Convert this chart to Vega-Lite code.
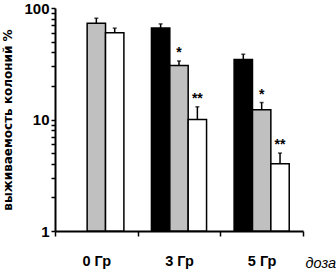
{
  "$schema": "https://vega.github.io/schema/vega-lite/v6.json",
  "autosize": "none",
  "padding": {"left": 55, "top": 8, "right": 33, "bottom": 42},
  "width": 248,
  "height": 223,
  "background": "white",
  "config": {
    "view": {"stroke": null},
    "axis": {"domainColor": "black", "domainWidth": 2, "tickColor": "black", "tickWidth": 1.5, "labelColor": "black", "grid": false, "labelFont": "Liberation Sans", "labelFontWeight": "bold"}
  },
  "data": {"values": [
    {"dose": "0 Гр", "group": "B", "value": 73, "err": 81, "base": 1, "sig": ""},
    {"dose": "0 Гр", "group": "C", "value": 60, "err": 66, "base": 1, "sig": ""},
    {"dose": "3 Гр", "group": "A", "value": 66, "err": 72, "base": 1, "sig": ""},
    {"dose": "3 Гр", "group": "B", "value": 30.5, "err": 33.5, "base": 1, "sig": "*"},
    {"dose": "3 Гр", "group": "C", "value": 10, "err": 13, "base": 1, "sig": "**"},
    {"dose": "5 Гр", "group": "A", "value": 34.5, "err": 38.5, "base": 1, "sig": ""},
    {"dose": "5 Гр", "group": "B", "value": 12.2, "err": 14.2, "base": 1, "sig": "*"},
    {"dose": "5 Гр", "group": "C", "value": 4.0, "err": 5.0, "base": 1, "sig": "**"}
  ]},
  "encoding": {
    "x": {"field": "dose", "type": "nominal", "sort": ["0 Гр", "3 Гр", "5 Гр"],
      "scale": {"paddingInner": 0, "paddingOuter": 0},
      "axis": {"title": "доза", "labelAngle": 0, "tickBand": "extent", "tickSize": 5, "labelPadding": 18, "labelFontSize": 14.5,
        "titleFont": "Liberation Sans", "titleFontStyle": "italic", "titleFontWeight": "normal", "titleFontSize": 14.5,
        "titleAlign": "left", "titleX": 250, "titleY": 36, "titleBaseline": "alphabetic", "titleColor": "black"}},
    "xOffset": {"field": "group", "type": "nominal", "scale": {"domain": ["A", "B", "C"], "paddingOuter": 0.75, "paddingInner": 0}}
  },
  "layer": [
    {
      "mark": {"type": "bar", "stroke": "black", "strokeWidth": 1.5},
      "encoding": {
        "y": {"field": "value", "type": "quantitative",
          "scale": {"type": "log", "domain": [1, 100], "nice": false},
          "axis": {"values": [1, 2, 3, 4, 5, 6, 7, 8, 9, 10, 20, 30, 40, 50, 60, 70, 80, 90, 100],
            "labelExpr": "datum.value == 1 || datum.value == 10 || datum.value == 100 ? format(datum.value, 'd') : ''",
            "tickSize": 4, "labelPadding": 2, "labelFontSize": 15,
            "title": "выживаемость колоний %", "titleFont": "DejaVu Sans", "titleFontWeight": "bold", "titleFontSize": 12,
            "titlePadding": 9, "titleColor": "black"}},
        "y2": {"field": "base"},
        "fill": {"field": "group", "type": "nominal", "scale": {"domain": ["A", "B", "C"], "range": ["#000000", "#c0c0c0", "#ffffff"]}, "legend": null}
      }
    },
    {
      "mark": {"type": "rule", "color": "black", "strokeWidth": 1.5},
      "encoding": {"y": {"field": "value", "type": "quantitative"}, "y2": {"field": "err"}}
    },
    {
      "mark": {"type": "tick", "color": "black", "size": 4, "thickness": 1.5},
      "encoding": {"y": {"field": "err", "type": "quantitative"}}
    },
    {
      "mark": {"type": "text", "font": "Liberation Sans", "fontWeight": "bold", "fontSize": 14, "baseline": "alphabetic", "dy": -4, "color": "black"},
      "encoding": {"y": {"field": "err", "type": "quantitative"}, "text": {"field": "sig"}}
    }
  ]
}
